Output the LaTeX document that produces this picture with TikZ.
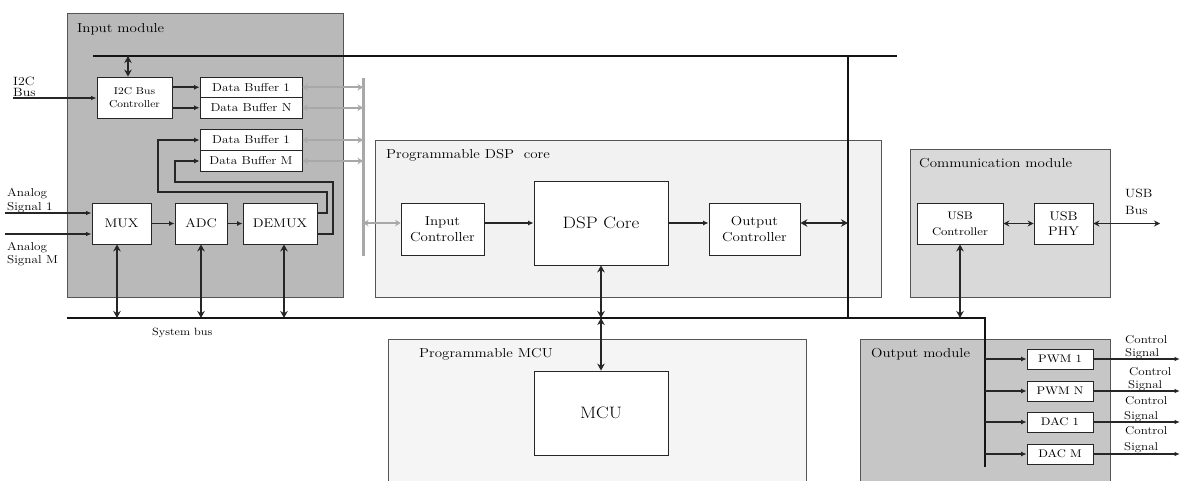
\documentclass[tikz,border=0pt]{standalone}
\usepackage{fontspec}
\setmainfont{Latin Modern Roman}[FakeStretch=1.15]
\usetikzlibrary{arrows.meta,calc}
\definecolor{inmodc}{HTML}{B9B9B9}
\definecolor{commc}{HTML}{D9D9D9}
\definecolor{outc}{HTML}{C6C6C6}
\definecolor{dspc}{HTML}{F2F2F2}
\definecolor{mcuc}{HTML}{F5F5F5}
\definecolor{grayb}{HTML}{A8A8A8}
\definecolor{edge}{HTML}{555555}
\begin{document}
\begin{tikzpicture}[x=1pt,y=-1pt,
  modbox/.style={draw=edge, line width=0.8pt, inner sep=0pt},
  blk/.style={draw=black!85, fill=white, line width=0.8pt, inner sep=0pt, align=center},
  bus/.style={line width=2.8pt, black!92},
  bidir/.style={line width=2.5pt, black!85, {Stealth[length=7pt,width=7.5pt]}-{Stealth[length=7pt,width=7.5pt]}},
  medbi/.style={line width=1.6pt, black!85, {Stealth[length=6pt,width=6pt]}-{Stealth[length=6pt,width=6pt]}},
  arr/.style={line width=1.6pt, black!85, -{Latex[length=5.5pt,width=5pt]}},
  thinarr/.style={line width=1.1pt, black!85, -{Latex[length=5.5pt,width=4.5pt]}},
  grayarr/.style={line width=2pt, grayb, {Stealth[length=5.5pt,width=6.5pt]}-{Stealth[length=5.5pt,width=6.5pt]}},
  lbl/.style={inner sep=0pt, anchor=base west},
  modlbl/.style={lbl, font=\fontsize{13}{15}\selectfont},
]
\useasboundingbox (0,0) rectangle (1182,480);
\fill[white] (0,0) rectangle (1182,480);

% ---------- module backgrounds ----------
\node[modbox, fill=inmodc, minimum width=276pt, minimum height=284pt] (inmod) at (205,155) {};
\node[modbox, fill=dspc, minimum width=506pt, minimum height=157pt] (dspmod) at (628,218.5) {};
\node[modbox, fill=commc, minimum width=200pt, minimum height=148pt] (commod) at (1010,223) {};
\node[modbox, fill=outc, minimum width=250pt, minimum height=150pt] (outmod) at (985,414) {};
\node[modbox, fill=mcuc, minimum width=418pt, minimum height=150pt] (mcumod) at (597,414) {};

\node[modlbl] (inlbl) at (77,32) {Input module};
\node[modlbl] (dsplbl) at (386,158) {Programmable DSP\ \ core};
\node[modlbl] (comlbl) at (919,167) {Communication module};
\node[modlbl] (outlbl) at (871,357) {Output module};
\node[modlbl] (mculbl) at (419,357) {Programmable MCU};

% ---------- buses ----------
\coordinate (tbL) at (93,56); \coordinate (tbR) at (897,56);
\coordinate (vbT) at (848,56); \coordinate (vbB) at (848,318);
\coordinate (sbL) at (67,318); \coordinate (sbR) at (986,318);
\coordinate (obT) at (985,318); \coordinate (obB) at (985,467);
\coordinate (gbT) at (363,78); \coordinate (gbB) at (363,256);
\draw[bus] (tbL) -- (tbR);
\draw[bus] (vbT) -- (vbB);
\draw[bus] (sbL) -- (sbR);
\draw[bus] (obT) -- (obB);
\draw[line width=3pt, grayb] (gbT) -- (gbB);

% ---------- input module blocks ----------
\node[blk, minimum width=75pt, minimum height=41pt, font=\fontsize{10}{13}\selectfont] (i2c) at (134.5,97.5) {I2C Bus\\Controller};
\node[blk, minimum width=102pt, minimum height=20.5pt, font=\fontsize{11.5}{13}\selectfont] (db1) at (251,87.25) {Data Buffer 1};
\node[blk, minimum width=102pt, minimum height=20.5pt, font=\fontsize{11.5}{13}\selectfont] (dbn) at (251,107.75) {Data Buffer N};
\node[blk, minimum width=102pt, minimum height=21pt, font=\fontsize{11.5}{13}\selectfont] (db1b) at (251,140) {Data Buffer 1};
\node[blk, minimum width=102pt, minimum height=21pt, font=\fontsize{11.5}{13}\selectfont] (dbm) at (251,161) {Data Buffer M};
\node[blk, minimum width=59pt, minimum height=41pt, font=\fontsize{12.5}{14}\selectfont] (mux) at (121.5,223.5) {MUX};
\node[blk, minimum width=52pt, minimum height=41pt, font=\fontsize{12.5}{14}\selectfont] (adc) at (201,223.5) {ADC};
\node[blk, minimum width=74pt, minimum height=41pt, font=\fontsize{12.5}{14}\selectfont] (demux) at (280,223.5) {DEMUX};

% ---------- DSP blocks ----------
\node[blk, minimum width=83pt, minimum height=52pt, font=\fontsize{13}{16}\selectfont] (inctrl) at (442.5,229) {Input\\Controller};
\node[blk, minimum width=134pt, minimum height=84pt, font=\fontsize{16.5}{18}\selectfont] (dspcore) at (601,223) {DSP Core};
\node[blk, minimum width=91pt, minimum height=52pt, font=\fontsize{13}{16}\selectfont] (outctrl) at (754.5,229) {Output\\Controller};

% ---------- communication blocks ----------
\node[blk, minimum width=86pt, minimum height=41pt, font=\fontsize{11}{16}\selectfont] (usbctrl) at (960,223.5) {USB\\Controller};
\node[blk, minimum width=59pt, minimum height=41pt, font=\fontsize{12.5}{15}\selectfont] (usbphy) at (1063.5,223.5) {USB\\PHY};

% ---------- MCU ----------
\node[blk, minimum width=134pt, minimum height=84pt, font=\fontsize{16.5}{18}\selectfont] (mcu) at (601,413) {MCU};

% ---------- output blocks ----------
\node[blk, minimum width=66pt, minimum height=20pt, font=\fontsize{11}{13}\selectfont] (pwm1) at (1060,359) {PWM 1};
\node[blk, minimum width=66pt, minimum height=20pt, font=\fontsize{11}{13}\selectfont] (pwmn) at (1060,391) {PWM N};
\node[blk, minimum width=66pt, minimum height=20pt, font=\fontsize{11}{13}\selectfont] (dac1) at (1060,422) {DAC 1};
\node[blk, minimum width=66pt, minimum height=20pt, font=\fontsize{11}{13}\selectfont] (dacm) at (1060,454) {DAC M};

% ---------- connectors: input module ----------
\coordinate (i2cup) at ([xshift=-6.5pt]i2c.north);
\draw[bidir] (i2cup) -- (i2cup |- tbL);
\draw[arr] (i2c.east |- db1) -- (db1.west);
\draw[arr] (i2c.east |- dbn) -- (dbn.west);
\coordinate (i2cin) at (13,98);
\draw[thinarr] (i2cin) -- (i2cin -| i2c.west);
\coordinate (an1) at (5,213);
\coordinate (anm) at (5,234);
\draw[thinarr] (an1) -- (an1 -| mux.west);
\draw[thinarr] (anm) -- (anm -| mux.west);
\draw[arr] (mux.east) -- (adc.west);
\draw[arr] (adc.east) -- (demux.west);
\draw[arr] (demux.east |- 0,213) -- (327,213) -- (327,192) -- (158,192) -- (158,140) -- (db1b.west);
\draw[arr] (demux.east |- 0,234) -- (333,234) -- (333,182) -- (175,182) -- (175,161) -- (dbm.west);
\coordinate (muxd) at ([xshift=-4.5pt]mux.south);
\coordinate (demuxd) at ([xshift=4pt]demux.south);
\draw[bidir] (muxd) -- (muxd |- sbL);
\draw[bidir] (adc.south) -- (adc.south |- sbL);
\draw[bidir] (demuxd) -- (demuxd |- sbL);
\draw[grayarr] (db1.east) -- (db1.east -| gbT);
\draw[grayarr] (dbn.east) -- (dbn.east -| gbT);
\draw[grayarr] (db1b.east) -- (db1b.east -| gbT);
\draw[grayarr] (dbm.east) -- (dbm.east -| gbT);

% ---------- connectors: DSP ----------
\draw[grayarr] (gbT |- dspcore) -- (inctrl.west |- dspcore);
\draw[arr] (inctrl.east |- dspcore) -- (dspcore.west);
\draw[arr] (dspcore.east) -- (outctrl.west |- dspcore);
\draw[bidir] (outctrl.east |- dspcore) -- (vbT |- dspcore);
\draw[bidir] (dspcore.south) -- (dspcore.south |- sbL);
\draw[bidir] (mcu.north) -- (mcu.north |- sbL);

% ---------- connectors: communication ----------
\coordinate (usbout) at (1160,223.5);
\draw[medbi] (usbctrl.east) -- (usbphy.west);
\draw[medbi] (usbphy.east) -- (usbout);
\draw[bidir] (usbctrl.south) -- (usbctrl.south |- sbL);

% ---------- connectors: output ----------
\coordinate (oend) at (1180,0);
\foreach \b in {pwm1,pwmn,dac1,dacm}{
  \draw[arr] (obT |- \b) -- (\b.west);
  \draw[thinarr] (\b.east) -- (\b.east -| oend);
}

% ---------- free labels ----------
\node[lbl, font=\fontsize{12}{14}\selectfont] (ti2c) at (13,85) {I2C};
\node[lbl, font=\fontsize{12}{14}\selectfont] (tbus) at (13,96) {Bus};
\node[lbl, font=\fontsize{11.5}{14}\selectfont] (tan1) at (7,196) {Analog};
\node[lbl, font=\fontsize{11.5}{14}\selectfont] (tsg1) at (7,210) {Signal 1};
\node[lbl, font=\fontsize{11.5}{14}\selectfont] (tanm) at (7,250) {Analog};
\node[lbl, font=\fontsize{11.5}{14}\selectfont] (tsgm) at (7,263) {Signal M};
\node[lbl, font=\fontsize{10.5}{14}\selectfont] (tsys) at (152,335) {System bus};
\node[lbl, font=\fontsize{12}{14}\selectfont] (tusb) at (1125,197) {USB};
\node[lbl, font=\fontsize{12}{14}\selectfont] (tusbb) at (1125,214) {Bus};
\node[lbl, font=\fontsize{11.3}{14}\selectfont] (c1a) at (1125,343) {Control};
\node[lbl, font=\fontsize{11.3}{14}\selectfont] (c1b) at (1125,356) {Signal};
\node[lbl, font=\fontsize{11.3}{14}\selectfont] (c2a) at (1129,375) {Control};
\node[lbl, font=\fontsize{11.3}{14}\selectfont] (c2b) at (1128,388) {Signal};
\node[lbl, font=\fontsize{11.3}{14}\selectfont] (c3a) at (1125,404) {Control};
\node[lbl, font=\fontsize{11.3}{14}\selectfont] (c3b) at (1124,419) {Signal};
\node[lbl, font=\fontsize{11.3}{14}\selectfont] (c4a) at (1125,434) {Control};
\node[lbl, font=\fontsize{11.3}{14}\selectfont] (c4b) at (1124,450) {Signal};
\end{tikzpicture}
\end{document}
